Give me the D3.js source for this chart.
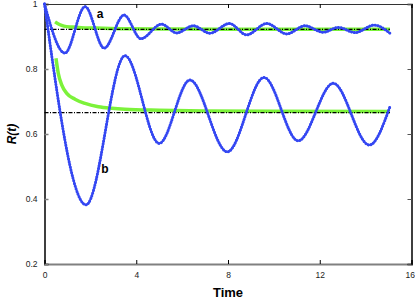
<!DOCTYPE html>
<html>
<head>
<meta charset="utf-8">
<script src="https://cdn.jsdelivr.net/npm/d3@7"></script>
<style>
  body { margin: 0; background: #fff; }
  svg { display: block; font-family: "Liberation Sans", Arial, sans-serif; }
</style>
</head>
<body>
<script>
// curve a: oscillation around the upper level (extrema)
let aTime = [0, 0.89, 1.77, 2.6, 3.47, 4.2, 5.1, 5.76, 6.49, 7.21, 8.06, 8.81, 9.69, 10.56, 11.36, 12.15, 12.81, 13.54, 14.38, 15.06]
let aValue = [1, 0.849, 0.992, 0.864, 0.966, 0.893, 0.938, 0.911, 0.933, 0.91, 0.94, 0.905, 0.94, 0.908, 0.933, 0.913, 0.928, 0.912, 0.935, 0.91]

// curve b: oscillation around the lower level
let bTime = [0, 1.81, 3.51, 5.0, 6.34, 7.97, 9.57, 11.06, 12.59, 14.16, 15.06]
let bValue = [1, 0.382, 0.841, 0.571, 0.766, 0.545, 0.774, 0.579, 0.756, 0.566, 0.684]

// green fits
let gaTime = [0.46, 0.65, 0.85, 1.2, 1.6, 2.2, 3.5, 6, 10, 15.06]
let gaValue = [0.945, 0.937, 0.932, 0.929, 0.927, 0.926, 0.924, 0.923, 0.922, 0.922]
let gbTime = [0.5, 0.6, 0.75, 0.97, 1.33, 1.77, 2.35, 2.93, 3.5, 5, 7, 10, 15.06]
let gbValue = [0.833, 0.787, 0.751, 0.725, 0.707, 0.694, 0.684, 0.679, 0.676, 0.673, 0.671, 0.67, 0.669]

// asymptotes
let levels = [0.922, 0.666]
let levelEnd = 15.06

let xTicks = [0, 4, 8, 12, 16]
let yTicks = [0.2, 0.4, 0.6, 0.8, 1]

let w = 415, h = 299

let svg = d3.select('body').append('svg')
  .attr('width', w)
  .attr('height', h)

let x = d3.scaleLinear().domain([0, 16]).range([44.5, 411.5])
let y = d3.scaleLinear().domain([0.2, 1]).range([264, 4])

// axes (ticks inward)
let fmt = d => d === 1 ? '1' : d3.format('.1f')(d)

let gx = svg.append('g').attr('transform', 'translate(0,264)')
  .call(d3.axisBottom(x).tickValues(xTicks).tickSize(-4).tickPadding(8).tickFormat(d3.format('d')))
gx.select('.domain').attr('stroke', '#808080').attr('stroke-width', 2)
gx.selectAll('.tick line').attr('stroke', '#000')
// last label sits at the window edge, keep it inside
gx.selectAll('.tick text').filter(d => d === 16).attr('text-anchor', 'end').attr('dx', 3)

let gy = svg.append('g').attr('transform', 'translate(44.5,0)')
  .call(d3.axisLeft(y).tickValues(yTicks).tickSize(-4).tickPadding(7).tickFormat(fmt))
gy.select('.domain').attr('stroke', '#000').attr('stroke-width', 1.5)
gy.selectAll('.tick line').attr('stroke', '#808080').attr('stroke-width', 1.5)

let gt = svg.append('g').attr('transform', 'translate(0,4)')
  .call(d3.axisTop(x).tickValues(xTicks).tickSize(-4).tickFormat(''))
gt.select('.domain').attr('stroke', '#333')

let gr = svg.append('g').attr('transform', 'translate(411.5,0)')
  .call(d3.axisRight(y).tickValues(yTicks).tickSize(-4).tickFormat(''))
gr.select('.domain').attr('stroke', '#000').attr('stroke-width', 1.5)
gr.selectAll('.tick line').attr('stroke', '#555')

svg.selectAll('.tick text')
  .attr('font-size', 8.5)
  .attr('font-family', '"Liberation Sans", Arial, sans-serif')
  .attr('fill', '#222')

// green curves
let line = d3.line()
  .x(d => x(d[0]))
  .y(d => y(d[1]))
  .curve(d3.curveMonotoneX)

let greens = [d3.zip(gaTime, gaValue), d3.zip(gbTime, gbValue)]
svg.selectAll('path.green')
  .data(greens)
  .enter()
  .append('path')
  .attr('class', 'green')
  .attr('d', line)
  .attr('fill', 'none')
  .attr('stroke', '#7cf23a')
  .attr('stroke-width', 3.5)

// dash-dot asymptotes
svg.selectAll('line.level')
  .data(levels)
  .enter()
  .append('line')
  .attr('class', 'level')
  .attr('x1', x(0))
  .attr('x2', x(levelEnd))
  .attr('y1', d => y(d))
  .attr('y2', d => y(d))
  .attr('stroke', '#000')
  .attr('stroke-width', 1.2)
  .attr('stroke-dasharray', '4,1.5,1,1.5')

// blue dotted curves
let blues = [d3.zip(bTime, bValue), d3.zip(aTime, aValue)]
svg.selectAll('path.blue')
  .data(blues)
  .enter()
  .append('path')
  .attr('class', 'blue')
  .attr('d', line)
  .attr('fill', 'none')
  .attr('stroke', '#3447f2')
  .attr('stroke-width', 3)
  .attr('stroke-linecap', 'round')
  .attr('stroke-dasharray', '0.1,2.7')

svg.selectAll('path.blue-core')
  .data(blues)
  .enter()
  .append('path')
  .attr('class', 'blue-core')
  .attr('d', line)
  .attr('fill', 'none')
  .attr('stroke', '#3447f2')
  .attr('stroke-width', 1.9)

// curve labels
svg.append('text')
  .attr('x', 100).attr('y', 18)
  .attr('text-anchor', 'middle')
  .attr('font-size', 12).attr('font-weight', 'bold')
  .text('a')
svg.append('text')
  .attr('x', 105).attr('y', 173)
  .attr('text-anchor', 'middle')
  .attr('font-size', 12).attr('font-weight', 'bold')
  .text('b')

// axis titles
svg.append('text')
  .attr('x', 228).attr('y', 297)
  .attr('text-anchor', 'middle')
  .attr('font-size', 13).attr('font-weight', 'bold')
  .text('Time')
svg.append('text')
  .attr('transform', 'translate(16,134) rotate(-90)')
  .attr('text-anchor', 'middle')
  .attr('font-size', 12).attr('font-weight', 'bold').attr('font-style', 'italic')
  .text('R(t)')
</script>
</body>
</html>
